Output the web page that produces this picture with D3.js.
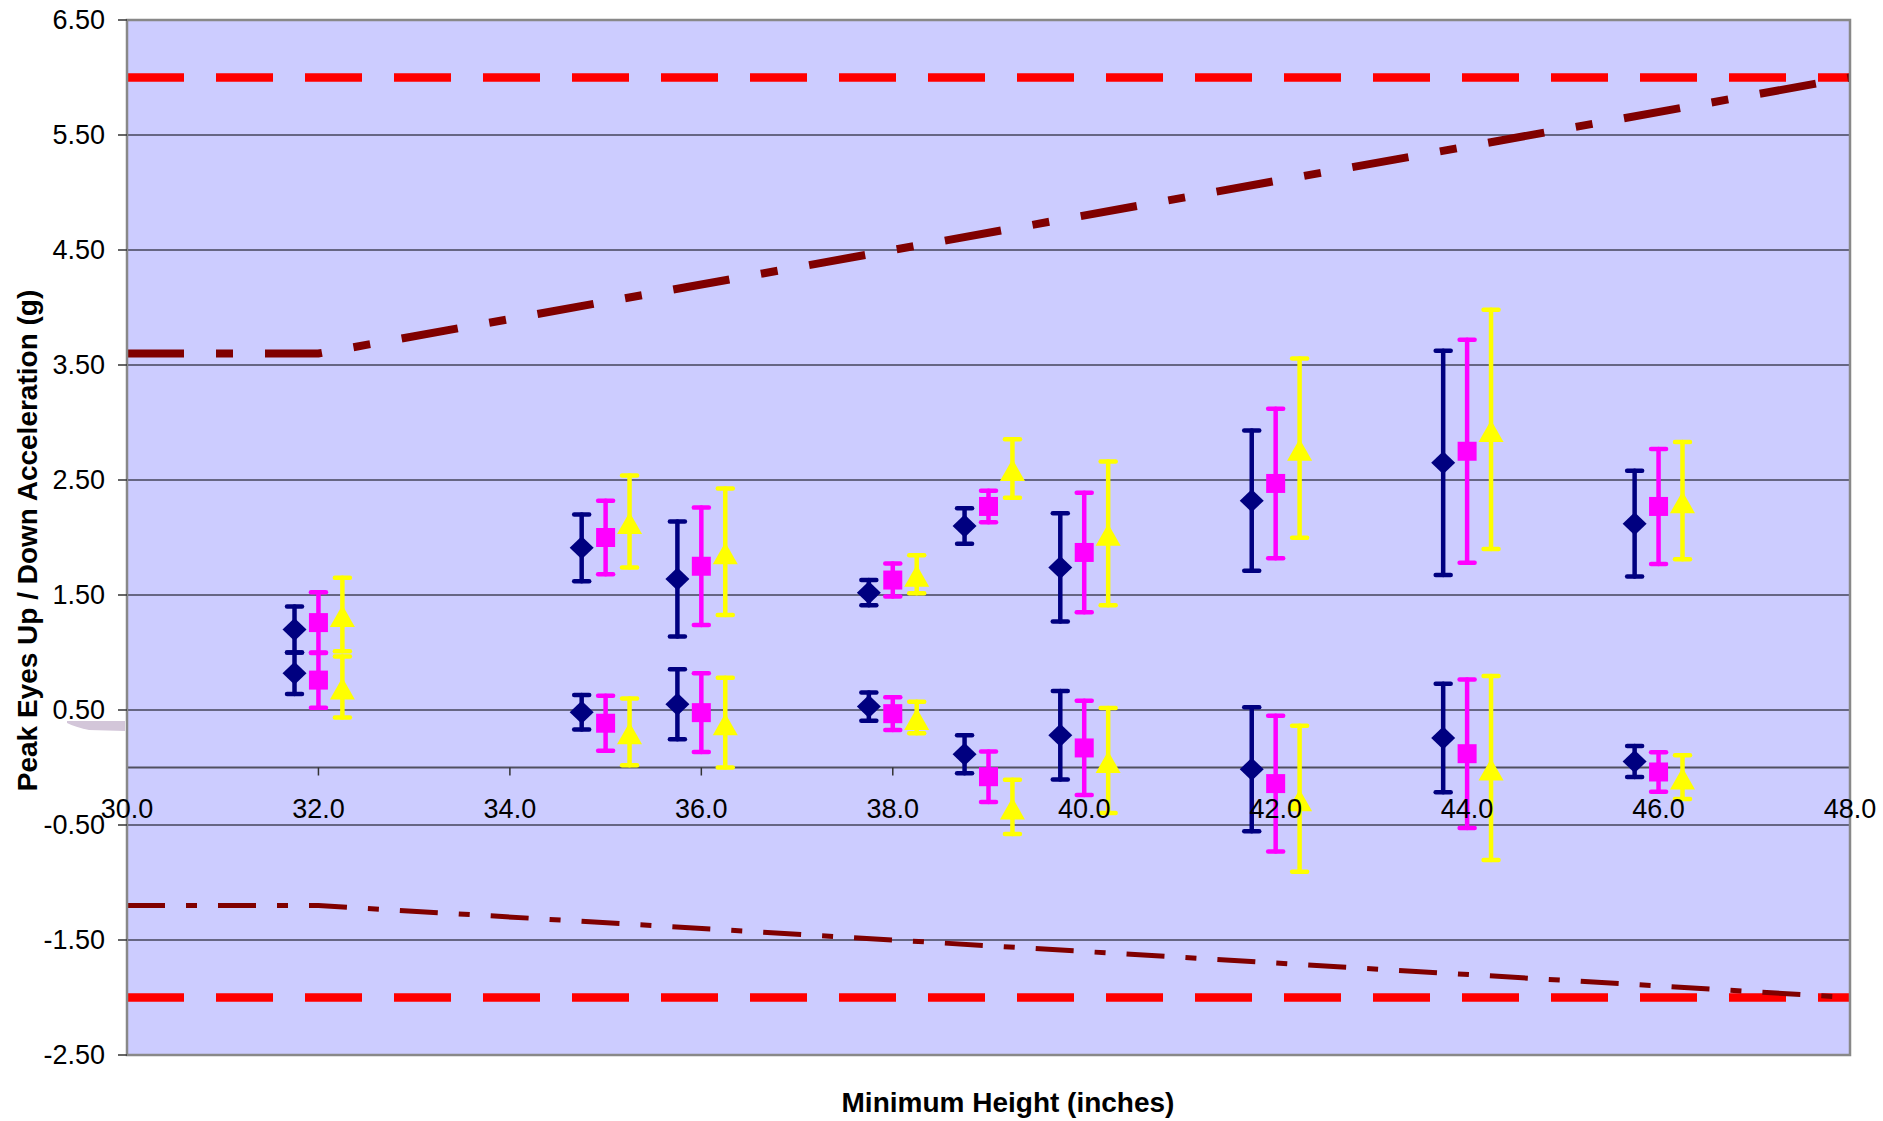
<!DOCTYPE html>
<html>
<head>
<meta charset="utf-8">
<script src="https://cdn.jsdelivr.net/npm/d3@7"></script>
<style>
  html, body { margin: 0; padding: 0; background: #fff; }
  svg { display: block; font-family: "Liberation Sans", Arial, sans-serif; }
</style>
</head>
<body>
<svg id="chart" width="1883" height="1121"></svg>
<script>
// minimum heights (inches) of each test group
var heights = [32, 35, 36, 38, 39, 40, 42, 44, 46];

// series 1 (navy diamonds)
var s1UpMean = [1.20, 1.91, 1.64, 1.52, 2.10, 1.74, 2.32, 2.65, 2.12],
    s1UpErr  = [0.20, 0.29, 0.50, 0.11, 0.155, 0.47, 0.61, 0.975, 0.46],
    s1LoMean = [0.82, 0.48, 0.55, 0.53, 0.115, 0.28, -0.015, 0.257, 0.052],
    s1LoErr  = [0.18, 0.15, 0.305, 0.123, 0.165, 0.385, 0.54, 0.472, 0.135];

// series 2 (magenta squares)
var s2UpMean = [1.26, 2.00, 1.75, 1.63, 2.27, 1.87, 2.47, 2.75, 2.27],
    s2UpErr  = [0.265, 0.32, 0.51, 0.144, 0.137, 0.52, 0.65, 0.97, 0.50],
    s2LoMean = [0.76, 0.385, 0.477, 0.468, -0.08, 0.17, -0.14, 0.12, -0.039],
    s2LoErr  = [0.24, 0.24, 0.342, 0.142, 0.22, 0.41, 0.59, 0.645, 0.171];

// series 3 (yellow triangles)
var s3UpMean = [1.33, 2.14, 1.876, 1.68, 2.60, 2.036, 2.777, 2.94, 2.32],
    s3UpErr  = [0.32, 0.40, 0.55, 0.165, 0.255, 0.625, 0.78, 1.04, 0.51],
    s3LoMean = [0.70, 0.31, 0.39, 0.434, -0.343, 0.061, -0.272, -0.004, -0.083],
    s3LoErr  = [0.265, 0.29, 0.39, 0.137, 0.236, 0.456, 0.635, 0.80, 0.19];

// limit curves
var limitX     = [30, 32, 48],
    upperCurve = [3.6, 3.6, 6.0],
    lowerCurve = [-1.2, -1.2, -2.0],
    maxLimit   = 6.0,
    minLimit   = -2.0;

// axes
var xTicks = [30, 32, 34, 36, 38, 40, 42, 44, 46, 48],
    yTicks = [6.5, 5.5, 4.5, 3.5, 2.5, 1.5, 0.5, -0.5, -1.5, -2.5];

var LEFT = 127, RIGHT = 1850, TOP = 20, BOTTOM = 1055,
    FONT = 27;

var svg = d3.select("#chart");

var x = d3.scaleLinear().domain([30, 48]).range([LEFT, RIGHT]),
    y = d3.scaleLinear().domain([-2.5, 6.5]).range([BOTTOM, TOP]);

// plain hyphen for negatives, like the original
function fmt(n) {
  return function (d) { return d.toFixed(n); };
}

// plot area
svg.append("rect").attr("x", LEFT).attr("y", TOP)
  .attr("width", RIGHT - LEFT).attr("height", BOTTOM - TOP)
  .attr("fill", "#ccccff");

// little smudge left of the axis near 0.50 (as in the original)
svg.append("path")
  .attr("d", "M" + (LEFT - 60) + " " + (y(0.5) + 11) +
             " L" + (LEFT - 2) + " " + (y(0.5) + 11) +
             " L" + (LEFT - 2) + " " + (y(0.5) + 21) +
             " L" + (LEFT - 38) + " " + (y(0.5) + 20) +
             " Q" + (LEFT - 52) + " " + (y(0.5) + 17) + " " + (LEFT - 60) + " " + (y(0.5) + 13) + " Z")
  .attr("fill", "#d3c6d9");

// gridlines
svg.append("g").selectAll("line").data(yTicks.slice(1, -1)).enter()
  .append("line")
  .attr("x1", LEFT).attr("x2", RIGHT)
  .attr("y1", function (d) { return y(d); })
  .attr("y2", function (d) { return y(d); })
  .attr("stroke", "#45455a").attr("stroke-width", 1.5);

// limit lines
var line = d3.line().x(function (d) { return x(d[0]); }).y(function (d) { return y(d[1]); });

[maxLimit, minLimit].forEach(function (v) {
  svg.append("path")
    .attr("d", line([[30, v], [48, v]]))
    .attr("fill", "none").attr("stroke", "#ff0000")
    .attr("stroke-width", 8.5).attr("stroke-dasharray", "57,32");
});

svg.append("path")
  .attr("d", line(d3.zip(limitX, upperCurve)))
  .attr("fill", "none").attr("stroke", "#800000")
  .attr("stroke-width", 8).attr("stroke-dasharray", "57,32,17,32");

svg.append("path")
  .attr("d", line(d3.zip(limitX, lowerCurve)))
  .attr("fill", "none").attr("stroke", "#800000")
  .attr("stroke-width", 5).attr("stroke-dasharray", "38,21,11,21");

// x axis through zero
svg.append("line")
  .attr("x1", LEFT).attr("x2", RIGHT)
  .attr("y1", y(0)).attr("y2", y(0))
  .attr("stroke", "#505060").attr("stroke-width", 2);
svg.append("g").selectAll("line").data(xTicks).enter()
  .append("line")
  .attr("x1", function (d) { return x(d); })
  .attr("x2", function (d) { return x(d); })
  .attr("y1", y(0)).attr("y2", y(0) + 8)
  .attr("stroke", "#333").attr("stroke-width", 1.5);

// series
var diamond = "M0,-11.5 L12,0 L0,11.5 L-12,0 Z",
    square = "M-9.5,-9.5 H9.5 V9.5 H-9.5 Z",
    triangle = "M0,-9.5 L12.5,12.5 L-12.5,12.5 Z";

var series = [
  { color: "#000080", shape: diamond, dx: -0.25, up: s1UpMean, upErr: s1UpErr, lo: s1LoMean, loErr: s1LoErr },
  { color: "#ff00ff", shape: square, dx: 0, up: s2UpMean, upErr: s2UpErr, lo: s2LoMean, loErr: s2LoErr },
  { color: "#ffff00", shape: triangle, dx: 0.25, up: s3UpMean, upErr: s3UpErr, lo: s3LoMean, loErr: s3LoErr }
];

series.forEach(function (s) {
  var pts = [];
  heights.forEach(function (h, i) {
    pts.push({ h: h + s.dx, v: s.up[i], e: s.upErr[i] });
    pts.push({ h: h + s.dx, v: s.lo[i], e: s.loErr[i] });
  });

  var g = svg.append("g");
  var bars = g.selectAll("g.bar").data(pts).enter().append("g").attr("class", "bar")
    .attr("stroke", s.color).attr("stroke-width", 4.5).attr("stroke-linecap", "round");

  bars.append("line")
    .attr("x1", function (d) { return x(d.h); })
    .attr("x2", function (d) { return x(d.h); })
    .attr("y1", function (d) { return y(d.v + d.e); })
    .attr("y2", function (d) { return y(d.v - d.e); });
  [1, -1].forEach(function (sign) {
    bars.append("line")
      .attr("x1", function (d) { return x(d.h) - 7.5; })
      .attr("x2", function (d) { return x(d.h) + 7.5; })
      .attr("y1", function (d) { return y(d.v + sign * d.e); })
      .attr("y2", function (d) { return y(d.v + sign * d.e); });
  });

  g.selectAll("path.marker").data(pts).enter().append("path")
    .attr("class", "marker")
    .attr("d", s.shape)
    .attr("transform", function (d) { return "translate(" + x(d.h) + "," + y(d.v) + ")"; })
    .attr("fill", s.color);
});

// plot border
svg.append("rect").attr("x", LEFT).attr("y", TOP)
  .attr("width", RIGHT - LEFT).attr("height", BOTTOM - TOP)
  .attr("fill", "none").attr("stroke", "#888").attr("stroke-width", 2.5);

// y ticks + labels
svg.append("g").selectAll("line").data(yTicks).enter()
  .append("line")
  .attr("x1", LEFT - 9).attr("x2", LEFT)
  .attr("y1", function (d) { return y(d); })
  .attr("y2", function (d) { return y(d); })
  .attr("stroke", "#333").attr("stroke-width", 1.5);

svg.append("g").selectAll("text").data(yTicks).enter()
  .append("text")
  .attr("x", LEFT - 22)
  .attr("y", function (d) { return y(d); })
  .attr("dy", "0.35em")
  .attr("text-anchor", "end")
  .attr("font-size", FONT)
  .text(fmt(2));

// x labels (drawn over the data, as in the original)
svg.append("g").selectAll("text").data(xTicks).enter()
  .append("text")
  .attr("x", function (d) { return x(d); })
  .attr("y", y(0) + 50)
  .attr("text-anchor", "middle")
  .attr("font-size", FONT)
  .text(fmt(1));

// titles
svg.append("text")
  .attr("x", 1008).attr("y", 1112)
  .attr("text-anchor", "middle")
  .attr("font-size", 28).attr("font-weight", "bold")
  .text("Minimum Height (inches)");

svg.append("text")
  .attr("transform", "translate(37," + ((TOP + BOTTOM) / 2 + 3) + ") rotate(-90)")
  .attr("text-anchor", "middle")
  .attr("font-size", 28).attr("font-weight", "bold")
  .text("Peak Eyes Up / Down Acceleration (g)");
</script>
</body>
</html>
